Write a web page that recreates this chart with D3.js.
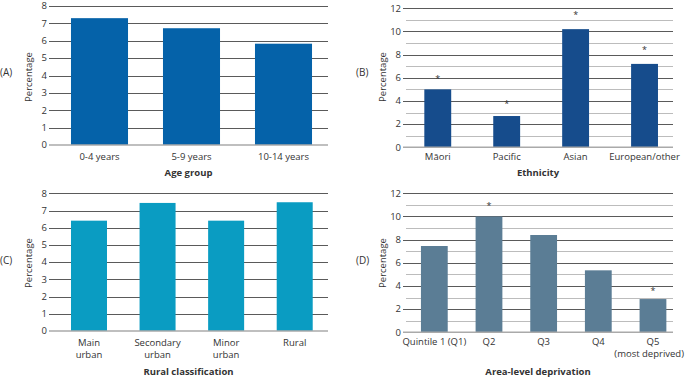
<!DOCTYPE html>
<html><head><meta charset="utf-8">
<script src="https://cdn.jsdelivr.net/npm/d3@7"></script>
<style>
body{margin:0;background:#fff;}
text{font-family:"Open Sans","Noto Sans",sans-serif;fill:#333;}
</style></head>
<body><svg id="c" width="685" height="377"></svg>
<script>
// ---- data ----
const ageCats = ["0-4 years","5-9 years","10-14 years"];
const ageVals = [7.3, 6.72, 5.83];

const ethCats = ["Māori","Pacific","Asian","European/other"];
const ethVals = [5.0, 2.7, 10.2, 7.2];
const ethStars = [6.1, 3.9, 11.6, 8.6]; // asterisk positions (null = none)

const ruralCats = [["Main","urban"],["Secondary","urban"],["Minor","urban"],["Rural"]];
const ruralVals = [6.41, 7.44, 6.41, 7.48];

const depCats = [["Quintile 1 (Q1)"],["Q2"],["Q3"],["Q4"],["Q5","(most deprived)"]];
const depVals = [7.45, 10.0, 8.4, 5.35, 2.87];
const depStars = [null, 11.1, null, null, 3.74];

const ticksA = [0,1,2,3,4,5,6,7,8];
const ticksB = [0,2,4,6,8,10,12];

const svg = d3.select("#c");

function panel(o){
  const g = svg.append("g");
  const y = d3.scaleLinear().domain([0,o.max]).range([o.y0,o.yTop]);
  const x = d3.scaleBand().domain(o.cats.map((d,i)=>i)).range(o.band)
    .paddingInner(o.pi).paddingOuter(o.pi/2);
  const all = d3.range(1,o.max+1);
  g.selectAll("line.g").data(all).join("line")
    .attr("x1",d=> o.minor && d%2 ? o.gx0+3 : o.gx0).attr("x2",o.gx1)
    .attr("y1",d=>Math.round(y(d))+0.5).attr("y2",d=>Math.round(y(d))+0.5)
    .attr("stroke",d=> o.minor && d%2 ? "#bcbcbc" : "#5a5a5a").attr("stroke-width",1);
  g.selectAll("text.t").data(o.ticks).join("text")
    .attr("x",o.gx0-2).attr("y",d=>y(d)+3.3).attr("text-anchor","end")
    .attr("font-size",9.5).text(d=>d);
  g.selectAll("rect").data(o.vals).join("rect")
    .attr("x",(d,i)=>x(i)).attr("width",x.bandwidth())
    .attr("y",d=>y(d)).attr("height",d=>y(0)-y(d)).attr("fill",o.color);
  g.append("line").attr("x1",o.gx0).attr("x2",o.gx1).attr("y1",y(0)).attr("y2",y(0))
    .attr("stroke","#aaa").attr("stroke-width",1.6);
  if(o.stars){
    o.stars.forEach((s,i)=>{
      if(s==null) return;
      g.append("text").attr("x",x(i)+x.bandwidth()/2).attr("y",y(s)+5)
        .attr("text-anchor","middle").attr("font-size",9).attr("fill","#444").text("*");
    });
  }
  o.cats.forEach((c,i)=>{
    const lines = Array.isArray(c)?c:[c];
    lines.forEach((t,j)=>{
      const tx = g.append("text").attr("x",x(i)+x.bandwidth()/2).attr("y",o.catY+j*12)
        .attr("text-anchor","middle").attr("font-size",9.5).text(t);
      const w = tx.node().getComputedTextLength();
      const cx = x(i)+x.bandwidth()/2;
      if(cx + w/2 > 684) tx.attr("x", 684 - w/2);
    });
  });
  g.append("text").attr("x",(o.gx0+o.gx1)/2).attr("y",o.titleY).attr("text-anchor","middle")
    .attr("font-size",9.5).attr("font-weight","bold").text(o.title);
  g.append("text").attr("transform",`translate(${o.ylx},${o.yly}) rotate(-90)`)
    .attr("text-anchor","middle").attr("font-size",9.5).text("Percentage");
  g.append("text").attr("x",o.px).attr("y",o.py).attr("font-size",10).text(o.letter);
}

panel({cats:ageCats,vals:ageVals,max:8,ticks:ticksA,minor:false,y0:145,yTop:6,
  band:[53.5,329.5],pi:0.38,gx0:49,gx1:328,color:"#0562a9",catY:159.5,titleY:175.5,
  title:"Age group",ylx:32,yly:77,letter:"(A)",px:0,py:76});
panel({cats:ethCats,vals:ethVals,stars:ethStars,max:12,ticks:ticksB,minor:true,y0:147.3,yTop:8.3,
  band:[403.3,679],pi:0.61,gx0:403,gx1:673,color:"#164c8c",catY:160,titleY:175.5,
  title:"Ethnicity",ylx:386,yly:77,letter:"(B)",px:356,py:76});
panel({cats:ruralCats,vals:ruralVals,max:8,ticks:ticksA,minor:false,y0:331,yTop:193.3,
  band:[54.7,329],pi:0.475,gx0:49,gx1:328,color:"#0a9cc2",catY:345.5,titleY:375,
  title:"Rural classification",ylx:32,yly:263,letter:"(C)",px:0,py:264});
panel({cats:depCats,vals:depVals,stars:depStars,max:12,ticks:ticksB,minor:true,y0:332.3,yTop:193.3,
  band:[407,680.3],pi:0.51,gx0:403,gx1:673,color:"#5b7d95",catY:345,titleY:375,
  title:"Area-level deprivation",ylx:386,yly:263,letter:"(D)",px:356,py:264});
</script></body></html>
